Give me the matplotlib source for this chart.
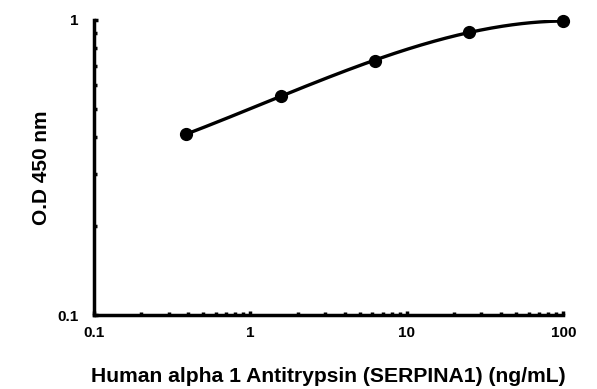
import matplotlib

matplotlib.use("Agg")
import matplotlib.pyplot as plt
import numpy as np
from matplotlib.ticker import FixedLocator, FixedFormatter, LogLocator, NullFormatter

plt.rcParams["font.family"] = ["Liberation Sans", "DejaVu Sans"]

# 标准曲线数据
conc = [0.39, 1.56, 6.25, 25, 100]
od = [0.41, 0.553, 0.726, 0.91, 0.99]
x_ticks = [0.1, 1, 10, 100]
x_tick_labels = ["0.1", "1", "10", "100"]
y_ticks = [0.1, 1]
y_tick_labels = ["0.1", "1"]

fig = plt.figure(figsize=(5.97, 3.89), dpi=100)
ax = fig.add_axes([0.1575, 0.19, 0.786, 0.759])

# 平滑曲线：log-log 空间三次拟合
lx, ly = np.log10(conc), np.log10(od)
coef = np.polyfit(lx, ly, 3)
xs = np.linspace(lx.min(), lx.max(), 200)
ax.plot(10 ** xs, 10 ** np.polyval(coef, xs), color="black", lw=2.4, zorder=2)
ax.plot(conc, od, "o", color="black", ms=8.5, zorder=3, clip_on=False)

ax.set_xscale("log")
ax.set_yscale("log")
ax.set_xlim(0.1, 100)
ax.set_ylim(0.1, 1)

ax.xaxis.set_major_locator(FixedLocator(x_ticks))
ax.xaxis.set_major_formatter(FixedFormatter(x_tick_labels))
ax.yaxis.set_major_locator(FixedLocator(y_ticks))
ax.yaxis.set_major_formatter(FixedFormatter(y_tick_labels))
ax.xaxis.set_minor_locator(LogLocator(base=10, subs=np.arange(2, 10)))
ax.yaxis.set_minor_locator(LogLocator(base=10, subs=np.arange(2, 10)))
ax.xaxis.set_minor_formatter(NullFormatter())
ax.yaxis.set_minor_formatter(NullFormatter())

ax.tick_params(which="major", direction="in", length=3, width=2.5, labelsize=11)
ax.tick_params(axis="x", which="major", pad=8)
ax.tick_params(axis="y", which="major", pad=11)
ax.tick_params(which="minor", direction="in", length=2.5, width=2.5)
for lbl in ax.get_xticklabels() + ax.get_yticklabels():
    lbl.set_fontweight("bold")

for side in ["top", "right"]:
    ax.spines[side].set_visible(False)
for side in ["left", "bottom"]:
    ax.spines[side].set_linewidth(2.5)

ax.set_xlabel("Human alpha 1 Antitrypsin (SERPINA1) (ng/mL)", fontsize=15.2,
              fontweight="bold", labelpad=19)
ax.set_ylabel("O.D 450 nm", fontsize=15, fontweight="bold", labelpad=5)

fig.savefig("out.png", dpi=100)
